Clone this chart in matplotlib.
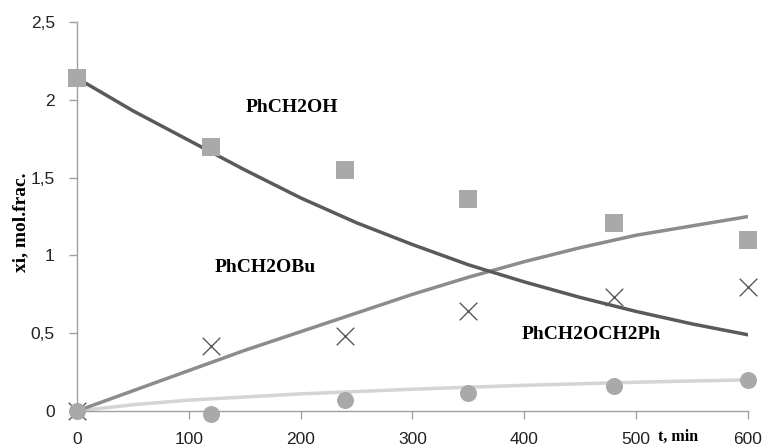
import numpy as np
import matplotlib.pyplot as plt
from matplotlib.ticker import FuncFormatter

# experimental points
t_exp = [0, 120, 240, 350, 480, 600]
oh_exp = [2.14, 1.70, 1.55, 1.36, 1.21, 1.10]
obu_exp = [0.0, 0.42, 0.48, 0.64, 0.73, 0.80]
och2ph_exp = [0.0, -0.02, 0.07, 0.115, 0.16, 0.20]

# model curves
t_mod = [0, 50, 100, 150, 200, 250, 300, 350, 400, 450, 500, 550, 600]
oh_mod = [2.14, 1.93, 1.74, 1.55, 1.37, 1.21, 1.07, 0.94, 0.83, 0.73, 0.64, 0.56, 0.49]
obu_mod = [0.0, 0.13, 0.26, 0.39, 0.51, 0.63, 0.75, 0.86, 0.96, 1.05, 1.13, 1.19, 1.25]
och2ph_mod = [0.0, 0.04, 0.07, 0.09, 0.11, 0.125, 0.14, 0.153, 0.165, 0.175, 0.185, 0.193, 0.20]

fig = plt.figure(figsize=(7.65, 4.48), dpi=100)
ax = fig.add_axes([0.1007, 0.0826, 0.877, 0.868])

ax.plot(t_mod, och2ph_mod, color='#d4d4d4', lw=2.5, zorder=2)
ax.plot(t_mod, obu_mod, color='#8c8c8c', lw=2.5, zorder=2)
ax.plot(t_mod, oh_mod, color='#5a5a5a', lw=2.5, zorder=2)

ax.scatter(t_exp, oh_exp, marker='s', s=150, color='#a9a9a9', zorder=3, clip_on=False, linewidths=0)
ax.scatter(t_exp, obu_exp, marker='x', s=160, color='#5a5a5a', zorder=3, clip_on=False, linewidths=1.0)
ax.scatter(t_exp, och2ph_exp, marker='o', s=150, color='#a9a9a9', zorder=3, clip_on=False, linewidths=0)

ax.set_xlim(0, 600)
ax.set_ylim(0, 2.5)
ax.set_xticks([0, 100, 200, 300, 400, 500, 600])
ax.set_yticks([0, 0.5, 1, 1.5, 2, 2.5])
ax.yaxis.set_major_formatter(FuncFormatter(lambda v, p: ('%g' % v).replace('.', ',')))

for s in ['top', 'right']:
    ax.spines[s].set_visible(False)
for s in ['left', 'bottom']:
    ax.spines[s].set_color('#a0a0a0')
    ax.spines[s].set_linewidth(1.0)
ax.tick_params(axis='both', color='#a0a0a0', length=6, width=1.0, labelsize=12.5)
ax.tick_params(axis='x', pad=9)
ax.tick_params(axis='y', pad=10)
for lab in ax.get_xticklabels() + ax.get_yticklabels():
    lab.set_family('Liberation Sans')
    lab.set_color('#222222')

serif = dict(family='Liberation Serif', fontweight='bold', fontsize=14)
ax.text(192, 1.95, 'PhCH2OH', ha='center', va='center', **serif)
ax.text(168, 0.92, 'PhCH2OBu', ha='center', va='center', **serif)
ax.text(460, 0.49, 'PhCH2OCH2Ph', ha='center', va='center', **serif)

fig.text(0.027, 0.503, 'xi, mol.frac.', rotation=90, ha='center', va='center', **serif)
fig.text(0.886, 0.008, 't, min', ha='center', va='bottom', family='Liberation Serif',
         fontweight='bold', fontsize=11.5)

fig.savefig('out.png', dpi=100)
